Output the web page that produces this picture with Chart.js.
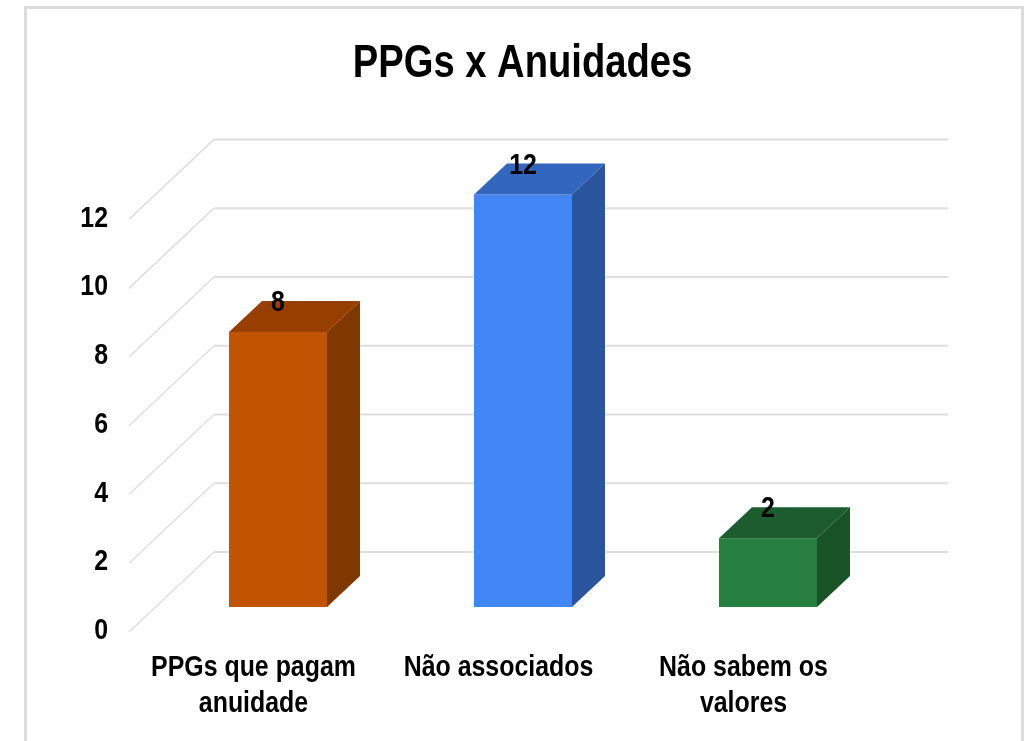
<!DOCTYPE html>
<html><head><meta charset="utf-8">
<style>
html,body{margin:0;padding:0;background:#fff;width:1025px;height:741px;overflow:hidden}
#frame{position:absolute;left:24px;top:6px;width:994px;height:735px;border:3px solid #dcdcdc;border-bottom:none;box-sizing:content-box}
#wrap{position:absolute;left:0;top:0;width:1025px;height:741px}
canvas{filter:blur(0.5px)}
</style>
<script src="https://cdn.jsdelivr.net/npm/chart.js@4"></script>
</head><body>
<div id="frame"></div>
<div id="wrap"><canvas id="c" width="1025" height="741"></canvas></div>
<script>
const categories = [["PPGs que pagam","anuidade"],"Não associados",["Não sabem os","valores"]];
const values = [8,12,2];
const frontColors = ["#c05400","#4285f4","#267e3f"];
const topColors = ["#963f00","#3367bd","#1c5c2e"];
const sideColors = ["#7f3800","#2a549c","#1a5228"];
const titleText = "PPGs x Anuidades";
const FONT = '"Liberation Sans",sans-serif';

const wall = {dx:83,dy:77,right:948,lift:-3,color:"#dedede"};
const bar3d = {shiftX:24.5,shiftY:-22,dx:33,dy:31};

const canvas = document.getElementById("c");
const ctx2d = canvas.getContext("2d");
/* the reference uses a narrow bold face: squeeze the installed one horizontally */
const nativeFillText = ctx2d.fillText;
ctx2d.fillText = function(t,x,y){
  this.save();
  this.translate(x,y+2);
  this.scale(0.83,1);
  nativeFillText.call(this,t,0,0);
  this.restore();
};

const plugin3d = {
  id:"plugin3d",
  beforeDatasetsDraw(chart){
    const {ctx,scales:{y},chartArea:a}=chart;
    ctx.save();
    ctx.strokeStyle=wall.color;ctx.lineWidth=2;
    y.ticks.forEach(t=>{
      const py=y.getPixelForValue(t.value);
      ctx.beginPath();
      ctx.lineWidth=1.5;
      ctx.moveTo(a.left-2,py-wall.lift);
      ctx.lineTo(a.left+wall.dx,py-wall.dy);
      ctx.stroke();
      ctx.beginPath();
      ctx.lineWidth=2;
      ctx.moveTo(a.left+wall.dx,py-wall.dy);
      ctx.lineTo(wall.right,py-wall.dy);
      ctx.stroke();
    });
    ctx.restore();
    ctx.save();
    ctx.translate(bar3d.shiftX,bar3d.shiftY);
  },
  afterDatasetsDraw(chart){
    const {ctx}=chart;
    ctx.restore();
    const meta=chart.getDatasetMeta(0);
    meta.data.forEach((b,i)=>{
      const hw=b.width/2, x0=b.x-hw+bar3d.shiftX, x1=b.x+hw+bar3d.shiftX;
      const t=b.y+bar3d.shiftY, bt=b.base+bar3d.shiftY;
      ctx.fillStyle=topColors[i];
      ctx.beginPath();ctx.moveTo(x0,t);ctx.lineTo(x0+bar3d.dx,t-bar3d.dy);ctx.lineTo(x1+bar3d.dx,t-bar3d.dy);ctx.lineTo(x1,t);ctx.closePath();ctx.fill();
      ctx.fillStyle=sideColors[i];
      ctx.beginPath();ctx.moveTo(x1,t);ctx.lineTo(x1+bar3d.dx,t-bar3d.dy);ctx.lineTo(x1+bar3d.dx,bt-bar3d.dy);ctx.lineTo(x1,bt);ctx.closePath();ctx.fill();
      ctx.fillStyle="#000";ctx.font='bold 30px '+FONT;ctx.textAlign="center";ctx.textBaseline="middle";
      ctx.fillText(String(values[i]),b.x+bar3d.shiftX,t-bar3d.dy);
    });
  }
};

new Chart(canvas,{
  type:"bar",
  data:{labels:categories,datasets:[{data:values,backgroundColor:frontColors,borderWidth:0,barPercentage:0.4,categoryPercentage:1,clip:false,yAxisID:"y"}]},
  plugins:[plugin3d],
  options:{
    responsive:false,animation:false,
    layout:{padding:{left:20,right:0,top:0,bottom:0}},
    plugins:{
      legend:{display:false},tooltip:{enabled:false},
      title:{display:true,text:titleText,color:"#000",font:{family:FONT,size:46,weight:"bold",lineHeight:1.2},padding:{top:35,bottom:126.2}}
    },
    scales:{
      x:{grid:{display:false,drawTicks:false},border:{display:false},
         afterFit(s){s.height=112;},
         ticks:{color:"#000",padding:19,autoSkip:false,maxRotation:0,minRotation:0,font:{family:FONT,size:30,weight:"bold",lineHeight:1.2}}},
      y:{min:0,max:12,grid:{display:false,drawTicks:false},border:{display:false},
         afterFit(s){s.width=111;},
         ticks:{stepSize:2,color:"#000",padding:23,font:{family:FONT,size:30,weight:"bold"}}},
      y2:{display:true,position:"right",min:0,max:12,grid:{display:false,drawTicks:false},border:{display:false},
         afterFit(s){s.width=159;},ticks:{display:false}}
    }
  }
});
</script>
</body></html>
